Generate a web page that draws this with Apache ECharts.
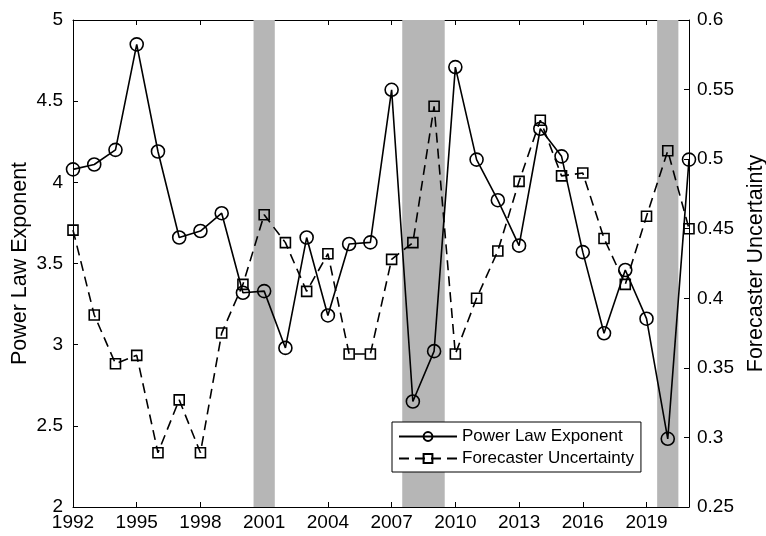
<!DOCTYPE html>
<html>
<head>
<meta charset="utf-8">
<script src="https://cdn.jsdelivr.net/npm/echarts@6/dist/echarts.min.js"></script>
<style>
    html, body { margin: 0; padding: 0; background: #fff; }
    #chart { width: 766px; height: 536px; }
</style>
</head>
<body>
<div id="chart"></div>
<script>
const years = [1992, 1993, 1994, 1995, 1996, 1997, 1998, 1999, 2000, 2001,
    2002, 2003, 2004, 2005, 2006, 2007, 2008, 2009, 2010, 2011,
    2012, 2013, 2014, 2015, 2016, 2017, 2018, 2019, 2020, 2021]
const powerLaw = [4.08, 4.11, 4.2, 4.85, 4.19, 3.66, 3.7, 3.81, 3.32, 3.33,
    2.98, 3.66, 3.18, 3.62, 3.63, 4.57, 2.65, 2.96, 4.71, 4.14,
    3.89, 3.61, 4.33, 4.16, 3.57, 3.07, 3.46, 3.16, 2.42, 4.14]
const uncertainty = [0.449, 0.388, 0.353, 0.359, 0.289, 0.327, 0.289, 0.375, 0.41, 0.46,
    0.44, 0.405, 0.432, 0.36, 0.36, 0.428, 0.44, 0.538, 0.36, 0.4,
    0.434, 0.484, 0.528, 0.488, 0.49, 0.443, 0.41, 0.459, 0.506, 0.45]
const recessions = [[2000.5, 2001.5], [2007.5, 2009.5], [2019.5, 2020.5]]
const xTicks = [1992, 1995, 1998, 2001, 2004, 2007, 2010, 2013, 2016, 2019]

const chart = echarts.init(document.getElementById('chart'))
const font = 'Liberation Sans, Arial, sans-serif'
const clear = 'rgba(0,0,0,0)'

chart.setOption({
    backgroundColor: '#fff',
    animation: false,
    textStyle: { fontFamily: font },
    grid: { left: 73, right: 77, top: 20, bottom: 29, outerBoundsMode: 'none' },
    legend: {
        orient: 'vertical',
        left: 392,
        top: 422,
        padding: [6, 7, 5, 6],
        itemGap: 5,
        itemWidth: 58,
        itemHeight: 11,
        backgroundColor: '#fff',
        borderColor: '#000',
        borderWidth: 1,
        textStyle: { fontSize: 17, color: '#000', fontFamily: font },
        data: ['Power Law Exponent', 'Forecaster Uncertainty']
    },
    xAxis: [
        {
            type: 'value',
            min: 1992,
            max: 2021,
            interval: 3,
            axisLine: { lineStyle: { color: '#000', width: 1 } },
            axisTick: { inside: true, length: 5, lineStyle: { color: '#000' } },
            axisLabel: {
                margin: 6,
                fontSize: 19,
                color: '#000',
                formatter: v => xTicks.includes(v) ? String(v) : ''
            },
            splitLine: { show: false }
        },
        {
            type: 'value',
            position: 'top',
            min: 1992,
            max: 2021,
            interval: 3,
            axisLine: { lineStyle: { color: '#000', width: 1 } },
            axisTick: { inside: true, length: 5, lineStyle: { color: '#000' } },
            axisLabel: { show: false },
            splitLine: { show: false }
        }
    ],
    yAxis: [
        {
            type: 'value',
            min: 2,
            max: 5,
            interval: 0.5,
            name: 'Power Law Exponent',
            nameLocation: 'middle',
            nameGap: 42,
            nameMoveOverlap: false,
            nameTextStyle: { fontSize: 21.5, color: '#000' },
            axisLine: { show: true, lineStyle: { color: '#000', width: 1 } },
            axisTick: { show: true, inside: true, length: 5, lineStyle: { color: '#000' } },
            axisLabel: { margin: 10, fontSize: 19, color: '#000' },
            splitLine: { show: false }
        },
        {
            type: 'value',
            min: 0.25,
            max: 0.6,
            interval: 0.05,
            name: 'Forecaster Uncertainty',
            nameLocation: 'middle',
            nameGap: 56,
            nameMoveOverlap: false,
            nameRotate: 90,
            nameTextStyle: { fontSize: 21.5, color: '#000' },
            axisLine: { show: true, lineStyle: { color: '#000', width: 1 } },
            axisTick: { show: true, inside: true, length: 5, lineStyle: { color: '#000' } },
            axisLabel: {
                margin: 8, fontSize: 19, color: '#000',
                formatter: v => String(+v.toFixed(2))
            },
            splitLine: { show: false }
        }
    ],
    series: [
        {
            name: 'Power Law Exponent',
            type: 'line',
            yAxisIndex: 0,
            data: years.map((y, i) => [y, powerLaw[i]]),
            symbol: 'circle',
            symbolSize: 13,
            lineStyle: { color: '#000', width: 1.6 },
            itemStyle: { color: clear, borderColor: '#000', borderWidth: 1.6 },
            z: 3,
            markArea: {
                silent: true,
                itemStyle: { color: '#b6b6b6' },
                data: recessions.map(r => [{ xAxis: r[0] }, { xAxis: r[1] }])
            }
        },
        {
            name: 'Forecaster Uncertainty',
            type: 'line',
            yAxisIndex: 1,
            data: years.map((y, i) => [y, uncertainty[i]]),
            symbol: 'rect',
            symbolSize: 10,
            lineStyle: { color: '#000', width: 1.6, type: [10, 6] },
            itemStyle: { color: clear, borderColor: '#000', borderWidth: 1.6 },
            z: 3
        }
    ]
})
</script>
</body>
</html>
